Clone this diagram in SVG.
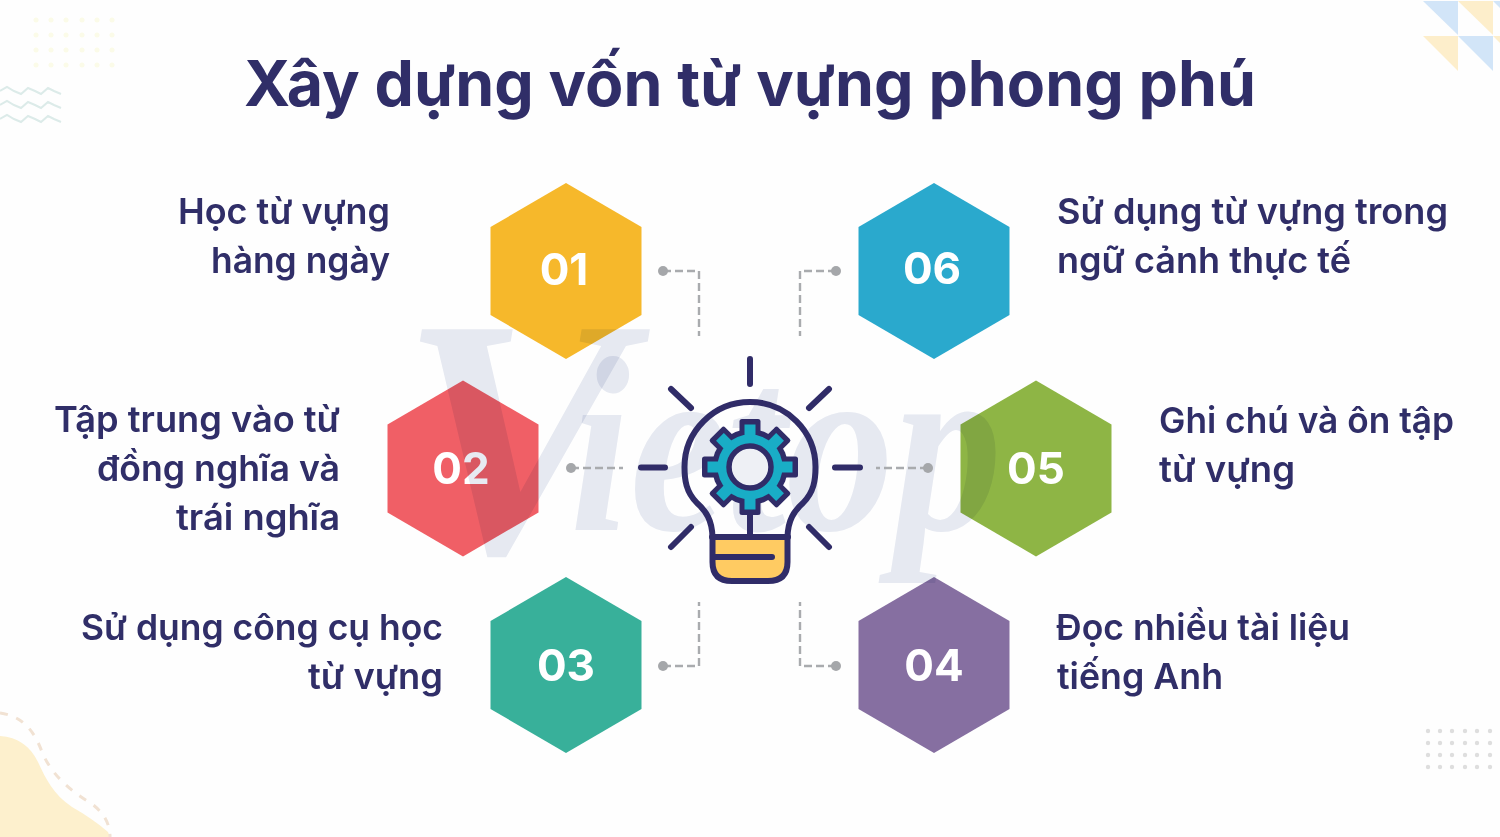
<svg xmlns="http://www.w3.org/2000/svg" xmlns:xlink="http://www.w3.org/1999/xlink" width="1500" height="837" viewBox="0 0 1500 837">
<style>
text{font-family:Inter,"Noto Sans",sans-serif}
.t{font-weight:600;font-size:35.5px;fill:#302e68}
.e{text-anchor:end}
.n{font-weight:700;font-size:44px;fill:#fff;text-anchor:middle}
.c{fill:none;stroke:#a9abae;stroke-width:2.4;stroke-dasharray:8 4}
.d{fill:#a5a7aa}
.b{fill:none;stroke:#302c68;stroke-width:6;stroke-linecap:round;stroke-linejoin:round}
.w{font-family:"Liberation Serif",serif;font-style:italic;font-weight:700;fill:#e7eaf2;mix-blend-mode:multiply}
</style>
<defs>
<polygon id="h" points="0,-88 75.5,-44 75.5,44 0,88 -75.5,44 -75.5,-44"/>
<rect id="td" x="-10.5" y="-48" width="21" height="20" rx="2.5" fill="#302c68"/>
<rect id="tt" x="-5.5" y="-42.5" width="11" height="16" fill="#19adc6"/>
</defs>
<rect width="1500" height="837" fill="#fefefe"/>
<g id="decor">
<g fill="#fbfbe8"><circle cx="36" cy="20" r="2.5"/><circle cx="51" cy="20" r="2.5"/><circle cx="66" cy="20" r="2.5"/><circle cx="82" cy="20" r="2.5"/><circle cx="97" cy="20" r="2.5"/><circle cx="112" cy="20" r="2.5"/><circle cx="36" cy="35" r="2.5"/><circle cx="51" cy="35" r="2.5"/><circle cx="66" cy="35" r="2.5"/><circle cx="82" cy="35" r="2.5"/><circle cx="97" cy="35" r="2.5"/><circle cx="112" cy="35" r="2.5"/><circle cx="36" cy="50" r="2.5"/><circle cx="51" cy="50" r="2.5"/><circle cx="66" cy="50" r="2.5"/><circle cx="82" cy="50" r="2.5"/><circle cx="97" cy="50" r="2.5"/><circle cx="112" cy="50" r="2.5"/><circle cx="36" cy="65" r="2.5"/><circle cx="51" cy="65" r="2.5"/><circle cx="66" cy="65" r="2.5"/><circle cx="82" cy="65" r="2.5"/><circle cx="97" cy="65" r="2.5"/><circle cx="112" cy="65" r="2.5"/></g>
<g fill="none" stroke="#dcebe9" stroke-width="2"><path d="M0 91l7-4 7 4 7 3 7-6 7 3 6 3 7-6 6 3 7 3"/><path d="M0 105l7-4 7 4 7 3 7-6 7 3 6 3 7-6 6 3 7 3"/><path d="M0 119l7-4 7 4 7 3 7-6 7 3 6 3 7-6 6 3 7 3"/></g>
<polygon points="1423,1 1458,1 1458,35" fill="#d2e5f8"/><polygon points="1458,1 1493,1 1493,35" fill="#fdeecb"/><polygon points="1423,36 1458,36 1458,71" fill="#fdeecb"/><polygon points="1458,36 1493,36 1493,71" fill="#d2e5f8"/><polygon points="1493,1 1500,1 1500,8" fill="#d2e5f8"/><polygon points="1493,36 1500,36 1500,43" fill="#fdeecb"/>
<path d="M0 736C18 737 30 746 38 762C46 779 53 794 72 807C86 815 98 823 108 832L110 837H0Z" fill="#fdf0cd"/>
<path d="M0 713C22 716 34 730 42 752C52 776 72 792 92 804C104 813 110 824 110 837" fill="none" stroke="#f1e2d3" stroke-width="3" stroke-dasharray="8 9"/>
<g fill="#dedede"><circle cx="1428" cy="731" r="2.2"/><circle cx="1440" cy="731" r="2.2"/><circle cx="1452" cy="731" r="2.2"/><circle cx="1465" cy="731" r="2.2"/><circle cx="1477" cy="731" r="2.2"/><circle cx="1490" cy="731" r="2.2"/><circle cx="1428" cy="743" r="2.2"/><circle cx="1440" cy="743" r="2.2"/><circle cx="1452" cy="743" r="2.2"/><circle cx="1465" cy="743" r="2.2"/><circle cx="1477" cy="743" r="2.2"/><circle cx="1490" cy="743" r="2.2"/><circle cx="1428" cy="755" r="2.2"/><circle cx="1440" cy="755" r="2.2"/><circle cx="1452" cy="755" r="2.2"/><circle cx="1465" cy="755" r="2.2"/><circle cx="1477" cy="755" r="2.2"/><circle cx="1490" cy="755" r="2.2"/><circle cx="1428" cy="767" r="2.2"/><circle cx="1440" cy="767" r="2.2"/><circle cx="1452" cy="767" r="2.2"/><circle cx="1465" cy="767" r="2.2"/><circle cx="1477" cy="767" r="2.2"/><circle cx="1490" cy="767" r="2.2"/></g>
</g>
<text x="750" y="106" text-anchor="middle" font-size="62.6" font-weight="700" fill="#302e68">Xây dựng vốn từ vựng phong phú</text>
<g id="node-01"><use xlink:href="#h" href="#h" x="566" y="271" fill="#f6b82b"/><text class="n" x="564" y="285">01</text><text class="t e" x="390" y="223.500" textLength="212" lengthAdjust="spacingAndGlyphs">Học từ vựng</text><text class="t e" x="390" y="272.500" textLength="179" lengthAdjust="spacingAndGlyphs">hàng ngày</text></g>
<g id="node-02"><use xlink:href="#h" href="#h" x="463" y="468.5" fill="#f05f66"/><text class="n" x="461" y="484">02</text><text class="t e" x="340" y="431.500" textLength="286" lengthAdjust="spacingAndGlyphs">Tập trung vào từ</text><text class="t e" x="340" y="480.500" textLength="243" lengthAdjust="spacingAndGlyphs">đồng nghĩa và</text><text class="t e" x="340" y="529.500" textLength="164" lengthAdjust="spacingAndGlyphs">trái nghĩa</text></g>
<g id="node-03"><use xlink:href="#h" href="#h" x="566" y="665" fill="#38b09a"/><text class="n" x="566" y="681">03</text><text class="t e" x="443" y="639.500" textLength="362" lengthAdjust="spacingAndGlyphs">Sử dụng công cụ học</text><text class="t e" x="443" y="688.500" textLength="135" lengthAdjust="spacingAndGlyphs">từ vựng</text></g>
<g id="node-04"><use xlink:href="#h" href="#h" x="934" y="665" fill="#866fa1"/><text class="n" x="934" y="681">04</text><text class="t" x="1056" y="639.500" textLength="294" lengthAdjust="spacingAndGlyphs">Đọc nhiều tài liệu</text><text class="t" x="1057" y="688.500" textLength="166" lengthAdjust="spacingAndGlyphs">tiếng Anh</text></g>
<g id="node-05"><use xlink:href="#h" href="#h" x="1036" y="468.5" fill="#8eb545"/><text class="n" x="1036" y="484">05</text><text class="t" x="1159" y="432.500" textLength="295" lengthAdjust="spacingAndGlyphs">Ghi chú và ôn tập</text><text class="t" x="1159" y="481.500" textLength="136" lengthAdjust="spacingAndGlyphs">từ vựng</text></g>
<g id="node-06"><use xlink:href="#h" href="#h" x="934" y="271" fill="#2aa9cd"/><text class="n" x="932" y="284">06</text><text class="t" x="1057" y="223.500" textLength="391" lengthAdjust="spacingAndGlyphs">Sử dụng từ vựng trong</text><text class="t" x="1057" y="272.500" textLength="294" lengthAdjust="spacingAndGlyphs">ngữ cảnh thực tế</text></g>
<g id="watermark">
<text class="w" x="400" y="552" font-size="340">V</text>
<text class="w" x="570" y="530" font-size="250" textLength="432" lengthAdjust="spacingAndGlyphs">ietop</text>
</g>
<g id="connectors">
<path class="c" d="M663 271H699V336"/><circle class="d" cx="663" cy="271" r="5"/>
<path class="c" d="M836 271H800V336"/><circle class="d" cx="836" cy="271" r="5"/>
<path class="c" d="M571 468H623"/><circle class="d" cx="571" cy="468" r="5"/>
<path class="c" d="M928 468H876"/><circle class="d" cx="928" cy="468" r="5"/>
<path class="c" d="M663 666H699V602"/><circle class="d" cx="663" cy="666" r="5"/>
<path class="c" d="M836 666H800V602"/><circle class="d" cx="836" cy="666" r="5"/>
</g>
<g id="bulb">
<path d="M712 537H787V562Q787 581 768 581H731Q712 581 712 562Z" fill="#ffcb62"/>
<path class="b" d="M750 510V537M712 537H788M714 557H772"/>
<path class="b" d="M712.500 537C712 520 706 511 697 503C686 492 684.500 480 684.500 467A65.500 65 0 0 1 815.500 467C815.500 480 814 492 803 503C794 511 788 520 787.500 537V562Q787.500 581 768 581H732Q712.500 581 712.500 562Z"/>
<g id="gear" transform="translate(750,467)">
<circle r="38" fill="#302c68"/>
<use xlink:href="#td" href="#td"/><use xlink:href="#td" href="#td" transform="rotate(45)"/><use xlink:href="#td" href="#td" transform="rotate(90)"/><use xlink:href="#td" href="#td" transform="rotate(135)"/><use xlink:href="#td" href="#td" transform="rotate(180)"/><use xlink:href="#td" href="#td" transform="rotate(225)"/><use xlink:href="#td" href="#td" transform="rotate(270)"/><use xlink:href="#td" href="#td" transform="rotate(315)"/>
<circle r="32.500" fill="#19adc6"/>
<use xlink:href="#tt" href="#tt"/><use xlink:href="#tt" href="#tt" transform="rotate(45)"/><use xlink:href="#tt" href="#tt" transform="rotate(90)"/><use xlink:href="#tt" href="#tt" transform="rotate(135)"/><use xlink:href="#tt" href="#tt" transform="rotate(180)"/><use xlink:href="#tt" href="#tt" transform="rotate(225)"/><use xlink:href="#tt" href="#tt" transform="rotate(270)"/><use xlink:href="#tt" href="#tt" transform="rotate(315)"/>
<circle r="21" fill="#eef0f5" stroke="#302c68" stroke-width="5.500"/>
</g>
<path class="b" d="M750 359V384M641 467.500H665M835 467.500H860M671 389L691 408M829 389L809 408M691 527L671 547M809 527L829 547"/>
</g>
</svg>
